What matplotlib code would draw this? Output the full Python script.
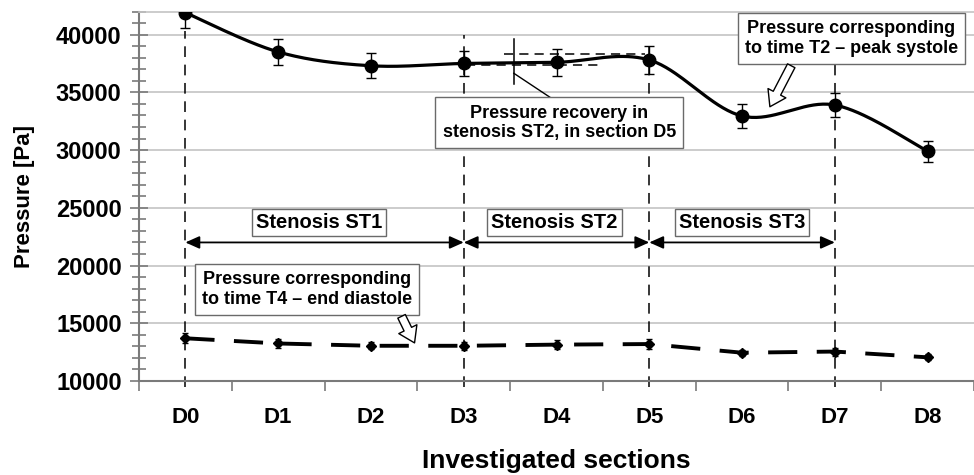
import numpy as np
import matplotlib.pyplot as plt

plt.rcParams['font.family'] = ['Liberation Sans', 'DejaVu Sans']
plt.rcParams['font.weight'] = 'bold'

# sections along the vessel
sections = ['D0', 'D1', 'D2', 'D3', 'D4', 'D5', 'D6', 'D7', 'D8']

# pressure at T2 (peak systole) and its spread [Pa]
p_systole = [41900, 38500, 37300, 37500, 37600, 37800, 32950, 33900, 29900]
err_systole = [1300, 1150, 1100, 1100, 1150, 1200, 1000, 1050, 900]

# pressure at T4 (end diastole) and its spread [Pa]
p_diastole = [13700, 13250, 13050, 13050, 13150, 13200, 12450, 12550, 12050]
err_diastole = [450, 400, 300, 350, 400, 400, 250, 350, 250]

# stenosis spans (start section, end section, label)
stenoses = [(0, 3, 'Stenosis ST1'), (3, 5, 'Stenosis ST2'), (5, 7, 'Stenosis ST3')]
boundaries = [0, 3, 5, 7]
boundary_tops = [40300, 40000, 39300, 37400]


def excel_smooth(x, y, n=40):
    # cubic bezier through the points, control points as in a Catmull-Rom spline
    pts = np.column_stack([x, y]).astype(float)
    out = []
    t = np.linspace(0, 1, n)[:, None]
    for i in range(len(pts) - 1):
        p0 = pts[i - 1] if i > 0 else pts[i]
        p1 = pts[i]
        p2 = pts[i + 1]
        p3 = pts[i + 2] if i + 2 < len(pts) else pts[i + 1]
        c1 = p1 + (p2 - p0) / 6.
        c2 = p2 - (p3 - p1) / 6.
        seg = (1 - t)**3 * p1 + 3 * (1 - t)**2 * t * c1 + 3 * (1 - t) * t**2 * c2 + t**3 * p2
        out.append(seg if i == 0 else seg[1:])
    out = np.vstack(out)
    return out[:, 0], out[:, 1]


xs = np.arange(len(sections))

fig = plt.figure(figsize=(9.74, 4.75), dpi=100)
ax = fig.add_axes([139/974, 94/475, 835/974, 369.5/475])

grid_c = '#c4c4c4'
axis_c = '#7a7a7a'

ax.set_ylim(10000, 42000)
ax.set_xlim(-0.5, 8.42)
ax.set_yticks(np.arange(10000, 42001, 5000))
ax.set_yticks(np.arange(10000, 42001, 1000), minor=True)
ax.yaxis.grid(True, which='major', color=grid_c, linewidth=1.2)
ax.set_axisbelow(True)

# category boundaries carry the tick marks, labels sit at the category centres
ax.set_xticks(np.arange(-0.5, 9, 1.0))
ax.set_xticklabels([])
ax.set_xticks(xs, minor=True)
ax.set_xticklabels(sections, minor=True, fontsize=16, fontweight='bold')
ax.tick_params(axis='x', which='major', direction='out', length=7, width=1.2, color=axis_c)
ax.tick_params(axis='x', which='minor', length=0, pad=19)
ax.tick_params(axis='y', which='both', direction='inout', width=1.2, color=axis_c)
ax.tick_params(axis='y', which='major', length=13, labelsize=17, pad=6)
ax.tick_params(axis='y', which='minor', length=10)
for lab in ax.get_yticklabels():
    lab.set_fontweight('bold')

ax.spines['right'].set_visible(False)
ax.spines['top'].set_color(grid_c)
ax.spines['top'].set_linewidth(1.2)
ax.spines['left'].set_color(axis_c)
ax.spines['bottom'].set_color(axis_c)
ax.spines['left'].set_linewidth(1.5)
ax.spines['bottom'].set_linewidth(1.5)

ax.set_ylabel('Pressure [Pa]', fontsize=16, fontweight='bold', labelpad=15)
ax.set_xlabel('Investigated sections', fontsize=19, fontweight='bold', labelpad=14.5)

# boundaries of the stenoses
for b, top in zip(boundaries, boundary_tops):
    ax.plot([b, b], [9500, top], color='black', linewidth=1.1,
            dashes=(7, 5), clip_on=False, zorder=2)

# peak systole curve
sx, sy = excel_smooth(xs, p_systole)
ax.plot(sx, sy, color='black', linewidth=2.3, zorder=4)
ax.errorbar(xs, p_systole, yerr=err_systole, fmt='o', color='black',
            markersize=9, elinewidth=1.0, capsize=3.5, capthick=1.0, zorder=5)

# end diastole curve
ax.plot(xs, p_diastole, color='black', linewidth=2.8, dashes=(7.5, 5), zorder=4)
ax.errorbar(xs, p_diastole, yerr=err_diastole, fmt='D', color='black',
            markersize=5, elinewidth=1.0, capsize=2, capthick=1.0, zorder=5)

# stenosis spans
box_style = dict(boxstyle='square,pad=0.2', fc='white', ec='#6a6a6a', lw=1.0)
for x0, x1, label in stenoses:
    ax.annotate('', xy=(x1, 22000), xytext=(x0, 22000),
                arrowprops=dict(arrowstyle='<|-|>,head_length=0.85,head_width=0.38',
                                color='black', lw=1.3, shrinkA=0, shrinkB=0,
                                mutation_scale=10), zorder=6)
stenosis_labels_x = [1.44, 3.98, 6.0]
for lx, (_, _, label) in zip(stenosis_labels_x, stenoses):
    ax.text(lx, 23750, label, ha='center', va='center', fontsize=14.5,
            fontweight='bold', bbox=box_style, zorder=7)

# pressure recovery marker near D3-D5
ax.plot([3.54, 3.54], [35750, 39650], color='black', linewidth=1.1, zorder=6)
ax.plot([3.43, 4.95], [38350, 38350], color='black', linewidth=1.1, dashes=(6, 4), zorder=6)
ax.plot([3.02, 4.5], [37400, 37400], color='black', linewidth=1.1, dashes=(6, 4), zorder=6)
ax.plot([3.54, 3.99], [36650, 34250], color='black', linewidth=1.0, zorder=6)

text_box = dict(boxstyle='square,pad=0.4', fc='white', ec='#6a6a6a', lw=1.0)
ax.text(4.03, 32350, 'Pressure recovery in\nstenosis ST2, in section D5', ha='center',
        va='center', fontsize=13, fontweight='bold', linespacing=1.2, bbox=text_box, zorder=7)

ax.text(7.18, 39650, 'Pressure corresponding\nto time T2 \u2013 peak systole', ha='center',
        va='center', fontsize=13, fontweight='bold', linespacing=1.2, bbox=text_box, zorder=7)
ax.text(1.31, 17900, 'Pressure corresponding\nto time T4 \u2013 end diastole', ha='center',
        va='center', fontsize=13, fontweight='bold', linespacing=1.2, bbox=text_box, zorder=7)

# hollow block arrows pointing at the curves
hollow = dict(arrowstyle='simple,head_length=1.1,head_width=1.45,tail_width=0.6',
              fc='white', ec='black', lw=1.0, shrinkA=0, shrinkB=0, mutation_scale=10)
ax.annotate('', xy=(6.30, 33750), xytext=(6.53, 37300), arrowprops=hollow, zorder=8)
ax.annotate('', xy=(2.47, 13300), xytext=(2.33, 15600), arrowprops=hollow, zorder=8)

fig.savefig('out.png', dpi=100)
